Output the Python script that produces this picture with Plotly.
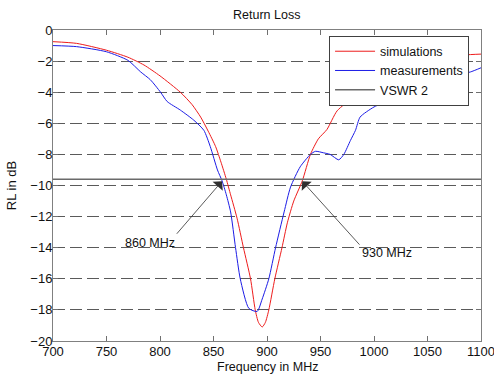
import plotly.graph_objects as go

# Simulations (red)
sim_f = [700, 722, 750, 770, 785, 800, 819, 830, 838, 845, 852, 857, 862, 866, 872, 878,
         884.6, 889, 892, 895.5, 898.5, 901.7, 907.3, 914, 919, 925, 933, 940.6, 948, 956,
         965.5, 981, 993.5, 1010, 1030, 1050, 1070, 1085, 1100]
sim_rl = [-0.75, -0.86, -1.3, -1.75, -2.25, -2.95, -4.0, -4.8, -5.6, -6.5, -7.5, -8.5, -9.6, -10.6,
          -12.1, -14.0, -16.0, -18.0, -18.8, -19.1, -18.8, -18.0, -16.0, -14.0, -12.4, -11.0,
          -9.7, -8.0, -7.0, -6.4, -5.2, -4.3, -3.55, -2.9, -2.3, -1.95, -1.7, -1.6, -1.55]

# Measurements (blue)
meas_f = [700, 722, 750, 770, 782, 791, 800.5, 806.7, 819, 831.6, 841, 847, 853.7, 858, 862,
          866, 870.6, 875, 883, 890.8, 895.5, 901.7, 908, 916, 922, 931, 940.6, 945.3, 953,
          959, 967, 971.8, 978, 982.7, 987, 1000, 1015.5, 1028, 1037.6, 1050, 1070, 1090, 1100]
meas_rl = [-1.0, -1.07, -1.4, -1.95, -2.7, -3.2, -4.0, -4.6, -5.15, -5.8, -6.45, -7.5, -9.0,
           -9.7, -10.6, -11.7, -14.0, -16.0, -17.9, -18.1, -17.3, -16.0, -14.0, -11.7, -10.1,
           -8.8, -8.0, -7.8, -7.9, -8.0, -8.35, -8.0, -7.1, -6.45, -5.6, -4.95, -4.5, -4.2,
           -3.76, -3.4, -3.0, -2.7, -2.43]

# VSWR 2 level
vswr_f = [700, 1100]
vswr_rl = [-9.6, -9.6]

# Annotations: label, arrow head (f, rl), arrow tail (f, rl), text centre (f, rl)
ann_labels = ["860 MHz", "930 MHz"]
ann_head_f = [858, 932.9]
ann_head_rl = [-9.72, -9.72]
ann_tail_f = [814.5, 987.7]
ann_tail_rl = [-13.2, -13.9]
ann_text_f = [791, 1012.6]
ann_text_rl = [-13.68, -14.35]

x_ticks = [700, 750, 800, 850, 900, 950, 1000, 1050, 1100]
y_ticks = [-20, -18, -16, -14, -12, -10, -8, -6, -4, -2, 0]

FONT = "Liberation Sans, Arial, sans-serif"
TXT = "#111"

fig = go.Figure()
fig.add_trace(go.Scatter(x=sim_f, y=sim_rl, mode="lines", name="simulations",
                         line=dict(color="#ee1c1c", width=1, shape="spline", smoothing=0.6)))
fig.add_trace(go.Scatter(x=meas_f, y=meas_rl, mode="lines", name="measurements",
                         line=dict(color="#1c1ce6", width=1, shape="spline", smoothing=0.6)))
fig.add_trace(go.Scatter(x=vswr_f, y=vswr_rl, mode="lines", name="VSWR 2",
                         line=dict(color="#6a6a6a", width=1.5)))

annotations = []
for i in range(len(ann_labels)):
    annotations.append(dict(x=ann_head_f[i], y=ann_head_rl[i], xref="x", yref="y",
                            ax=ann_tail_f[i], ay=ann_tail_rl[i], axref="x", ayref="y",
                            text="", showarrow=True, arrowhead=1, arrowsize=2.8,
                            arrowwidth=0.8, arrowcolor="#303030", standoff=0, startstandoff=0))
    annotations.append(dict(x=ann_text_f[i], y=ann_text_rl[i], xref="x", yref="y",
                            text=ann_labels[i], showarrow=False,
                            font=dict(family=FONT, size=12.5, color=TXT)))

# x-axis title, placed just below the tick labels
annotations.append(dict(x=0.5, y=-0.0547, xref="paper", yref="paper", xanchor="center",
                        yanchor="top", text="Frequency in MHz", showarrow=False,
                        font=dict(family=FONT, size=12.5, color=TXT)))

fig.update_layout(
    width=494, height=374,
    margin=dict(l=53, r=13, t=30, b=33),
    paper_bgcolor="white", plot_bgcolor="white",
    font=dict(family=FONT, size=12.5, color=TXT),
    title=dict(text="Return Loss", x=0.54, xanchor="center", y=1 - 15 / 374, yanchor="middle",
               font=dict(family=FONT, size=12.5, color=TXT)),
    showlegend=True,
    legend=dict(x=0.645, y=0.982, xanchor="left", yanchor="top",
                bgcolor="white", bordercolor="#404040", borderwidth=1,
                font=dict(family=FONT, size=12.5, color=TXT),
                itemwidth=40, tracegroupgap=0),
    annotations=annotations,
)
fig.update_xaxes(range=[700, 1100], tickvals=x_ticks, ticks="inside", ticklen=5,
                 tickcolor="#707070", showline=True, linecolor="#808080", mirror="ticks",
                 showgrid=False, zeroline=False, automargin=False,
                 ticklabeloverflow="allow", ticklabelstandoff=-2,
                 tickfont=dict(family=FONT, size=13, color=TXT))
fig.update_yaxes(range=[-20, 0], tickvals=y_ticks, ticks="inside", ticklen=5,
                 tickcolor="#707070", showline=True, linecolor="#808080", mirror="ticks",
                 showgrid=True, gridcolor="#5a5a5a", gridwidth=1, griddash="12px,5px",
                 zeroline=False, automargin=False, ticklabelstandoff=-3,
                 tickfont=dict(family=FONT, size=13, color=TXT),
                 title=dict(text="RL in dB", standoff=10,
                            font=dict(family=FONT, size=13, color=TXT)))

fig.write_html("out.html", config={"displayModeBar": False},
               post_script="document.body.style.margin='0';document.body.style.overflow='hidden';")
